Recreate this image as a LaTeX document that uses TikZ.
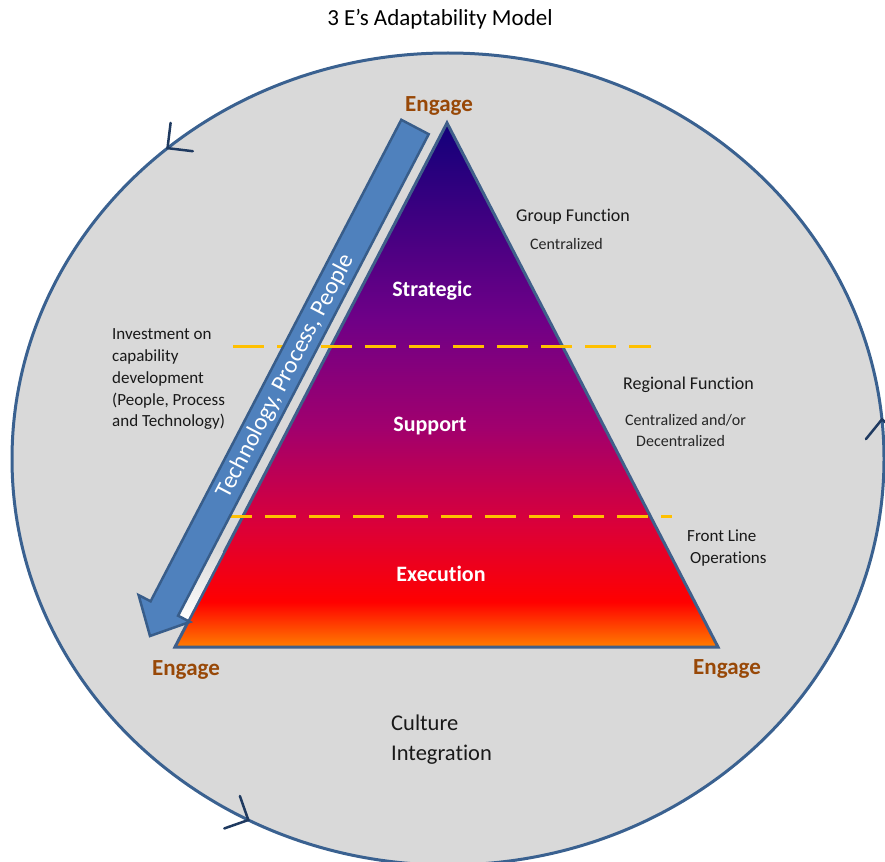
\documentclass[tikz,border=0pt]{standalone}
\usepackage{fontspec}
\setmainfont{Carlito}[Ligatures=NoCommon]
\usetikzlibrary{decorations.markings}
\definecolor{bgray}{HTML}{D9D9D9}
\definecolor{rim}{HTML}{3A6190}
\definecolor{barbc}{HTML}{1F3A60}
\definecolor{engagec}{HTML}{984807}
\definecolor{tribord}{HTML}{3F5F8A}
\definecolor{arrowfill}{HTML}{4F81BD}
\definecolor{arrowline}{HTML}{385D8A}
\definecolor{dashgold}{HTML}{FFC000}
\pgfdeclareverticalshading{pyr}{100bp}{rgb(0bp)=(1,0.49,0); rgb(25bp)=(1,0.49,0); rgb(29.3bp)=(1,0,0); rgb(36.5bp)=(0.86,0,0.22); rgb(46bp)=(0.63,0,0.43); rgb(56.5bp)=(0.43,0,0.53); rgb(75bp)=(0.07,0,0.48); rgb(100bp)=(0.07,0,0.48)}
\begin{document}
\begin{tikzpicture}[x=1pt,y=-1pt,
  engage/.style={font=\bfseries\fontsize{23}{27}\selectfont, text=engagec, inner sep=0, anchor=base},
  lvl/.style={font=\bfseries\fontsize{22}{26}\selectfont, text=white, inner sep=0, anchor=base},
  sidebig/.style={font=\fontsize{18}{22}\selectfont, text=black!90, inner sep=0, anchor=base west},
  sidesmall/.style={font=\fontsize{16}{20}\selectfont, text=black!85, inner sep=0, anchor=base west},
  sidemid/.style={font=\fontsize{17}{21}\selectfont, text=black!90, inner sep=0, anchor=base west},
  bottomtxt/.style={font=\fontsize{22.5}{26}\selectfont, text=black!90, inner sep=0, anchor=base west},
  barb/.style={barbc, line width=2.5pt, line cap=round},
  dashline/.style={dashgold, line width=3pt, dash pattern=on 31pt off 13pt}
]
\useasboundingbox (0,0) rectangle (885,861);
\clip (0,0) rectangle (885,861);
\fill[white] (0,0) rectangle (885,861);

% big ellipse with open arrow marks
\draw[rim, line width=3pt, fill=bgray, postaction={decorate},
  decoration={markings,
    mark=at position 0.015 with {\draw[barb] (-18,18) -- (0,0) -- (-18,-18);},
    mark=at position 0.364 with {\draw[barb] (-18,18) -- (0,0) -- (-18,-18);},
    mark=at position 0.672 with {\draw[barb] (-18,18) -- (0,0) -- (-18,-18);}}]
  (448,459) ellipse [x radius=436pt, y radius=406pt];

% pyramid
\coordinate (apex) at (447,123);
\coordinate (bl) at (175,647);
\coordinate (br) at (718,647);
\shade[shading=pyr] (apex) -- (bl) -- (br) -- cycle;
\draw[tribord, line width=3pt] (apex) -- (bl) -- (br) -- cycle;

% dashed level separators
\coordinate (d1a) at (233,346); \coordinate (d1b) at (651,346);
\coordinate (d2a) at (230,516); \coordinate (d2b) at (672,516);
\draw[dashline] (d1a) -- (d1b);
\draw[dashline, dash phase=9pt] (d2a) -- (d2b);

% light strip beside arrow
\shade[top color=bgray, bottom color=white] (214.5,547.6) -- (223.0,552.0) -- (187.4,620.5) -- (178.9,616.1) -- cycle;

% block arrow
\coordinate (a1) at (401.3,119.8);
\coordinate (a2) at (428.7,134.2);
\coordinate (a3) at (178.1,615.7);
\coordinate (a4) at (190.0,621.9);
\coordinate (tip) at (150,636);
\coordinate (a6) at (138.6,595.1);
\coordinate (a7) at (150.6,601.3);
\draw[arrowline, line width=2.5pt, fill=arrowfill, line join=miter] (a1) -- (a2) -- (a3) -- (a4) -- (tip) -- (a6) -- (a7) -- cycle;
\node[text=white, font=\fontsize{24}{28}\selectfont, rotate=62.4, inner sep=0] (arrtext) at (286,376) {Technology, Process, People};

% title
\node[font=\fontsize{23}{27}\selectfont, inner sep=0, anchor=base] (title) at (440,26) {3 E’s Adaptability Model};

% engage labels
\node[engage] (eTop) at (439,112) {Engage};
\node[engage] (eLeft) at (186,675) {Engage};
\node[engage] (eRight) at (727,674) {Engage};

% level labels
\node[lvl] (strategic) at (432,296) {Strategic};
\node[lvl] (support) at (430,431) {Support};
\node[lvl] (execution) at (441,581) {Execution};

% right side labels
\node[sidebig] (grp) at (516,221) {Group Function};
\node[sidesmall] (cen) at (530,249) {Centralized};
\node[sidebig] (reg) at (623,389) {Regional Function};
\node[sidesmall] (cen2) at (625,425) {Centralized and/or};
\node[sidesmall] (decen) at (636,446) {Decentralized};
\node[sidemid] (front) at (687,541) {Front Line};
\node[sidemid] (oper) at (690,563) {Operations};

% left side labels
\node[sidemid] (inv1) at (112,339) {Investment on};
\node[sidemid] (inv2) at (112,361) {capability};
\node[sidemid] (inv3) at (112,383) {development};
\node[sidemid] (inv4) at (112,405) {(People, Process};
\node[sidemid] (inv5) at (112,426) {and Technology)};

% bottom labels
\node[bottomtxt] (cult) at (391,730) {Culture};
\node[bottomtxt] (integ) at (391,760) {Integration};
\end{tikzpicture}
\end{document}
